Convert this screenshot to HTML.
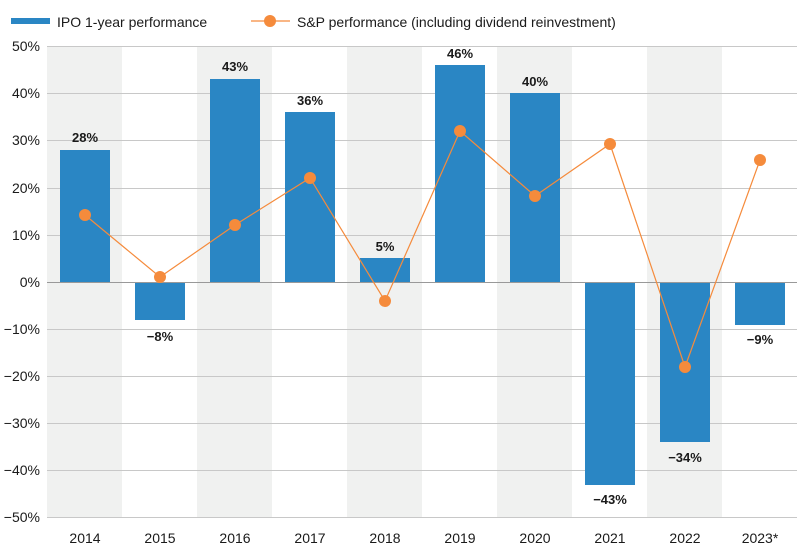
<!DOCTYPE html>
<html><head><style>body{margin:0;background:#fff}svg{display:block}text{font-family:"Liberation Sans",sans-serif;fill:#1a1a1a}</style></head>
<body>
<svg width="800" height="558" xmlns="http://www.w3.org/2000/svg">
<g fill="#f0f1f0">
<rect x="47" y="46" width="75" height="472"/>
<rect x="197" y="46" width="75" height="472"/>
<rect x="347" y="46" width="75" height="472"/>
<rect x="497" y="46" width="75" height="472"/>
<rect x="647" y="46" width="75" height="472"/>
</g>
<g stroke="#c8c8c8" stroke-width="1">
<line x1="47" x2="797" y1="46.5" y2="46.5"/><line x1="47" x2="797" y1="93.5" y2="93.5"/>
<line x1="47" x2="797" y1="140.5" y2="140.5"/><line x1="47" x2="797" y1="188.5" y2="188.5"/>
<line x1="47" x2="797" y1="235.5" y2="235.5"/><line x1="47" x2="797" y1="329.5" y2="329.5"/>
<line x1="47" x2="797" y1="376.5" y2="376.5"/><line x1="47" x2="797" y1="423.5" y2="423.5"/>
<line x1="47" x2="797" y1="470.5" y2="470.5"/><line x1="47" x2="797" y1="517.5" y2="517.5"/>
</g>
<g fill="#2a86c4">
<rect x="60" y="150" width="50" height="132"/>
<rect x="135" y="282" width="50" height="38"/>
<rect x="210" y="79" width="50" height="203"/>
<rect x="285" y="112" width="50" height="170"/>
<rect x="360" y="258" width="50" height="24"/>
<rect x="435" y="65" width="50" height="217"/>
<rect x="510" y="93" width="50" height="189"/>
<rect x="585" y="282" width="50" height="203"/>
<rect x="660" y="282" width="50" height="160"/>
<rect x="735" y="282" width="50" height="43"/>
</g>
<line x1="47" x2="797" y1="282.5" y2="282.5" stroke="#999" stroke-width="1"/>
<polyline fill="none" stroke="#f58b3c" stroke-width="1.2" points="85,215 160,277 235,225 310,178 385,301 460,131 535,196 610,144 685,367 760,160"/>
<g fill="#f58b3c">
<circle cx="85" cy="215" r="6"/><circle cx="160" cy="277" r="6"/><circle cx="235" cy="225" r="6"/><circle cx="310" cy="178" r="6"/><circle cx="385" cy="301" r="6"/><circle cx="460" cy="131" r="6"/><circle cx="535" cy="196" r="6"/><circle cx="610" cy="144" r="6"/><circle cx="685" cy="367" r="6"/><circle cx="760" cy="160" r="6"/>
</g>
<g font-size="13" font-weight="bold" text-anchor="middle">
<text x="85" y="142">28%</text><text x="160" y="341">−8%</text><text x="235" y="71">43%</text>
<text x="310" y="105">36%</text><text x="385" y="251">5%</text><text x="460" y="58">46%</text>
<text x="535" y="86">40%</text><text x="610" y="504">−43%</text><text x="685" y="462">−34%</text><text x="760" y="344">−9%</text>
</g>
<g font-size="14" text-anchor="end">
<text x="40" y="51">50%</text><text x="40" y="98">40%</text><text x="40" y="145">30%</text><text x="40" y="193">20%</text>
<text x="40" y="240">10%</text><text x="40" y="287">0%</text><text x="40" y="334">−10%</text><text x="40" y="381">−20%</text>
<text x="40" y="428">−30%</text><text x="40" y="475">−40%</text><text x="40" y="522">−50%</text>
</g>
<g font-size="14" text-anchor="middle">
<text x="85" y="543">2014</text><text x="160" y="543">2015</text><text x="235" y="543">2016</text><text x="310" y="543">2017</text>
<text x="385" y="543">2018</text><text x="460" y="543">2019</text><text x="535" y="543">2020</text><text x="610" y="543">2021</text>
<text x="685" y="543">2022</text><text x="760" y="543">2023*</text>
</g>
<rect x="11" y="18" width="39" height="6" fill="#2a86c4"/>
<text x="57" y="27" font-size="14">IPO 1-year performance</text>
<line x1="251" x2="290" y1="21" y2="21" stroke="#f58b3c" stroke-width="1.2"/>
<circle cx="270" cy="21" r="6" fill="#f58b3c"/>
<text x="297" y="27" font-size="14">S&amp;P performance (including dividend reinvestment)</text>
</svg>
</body></html>
